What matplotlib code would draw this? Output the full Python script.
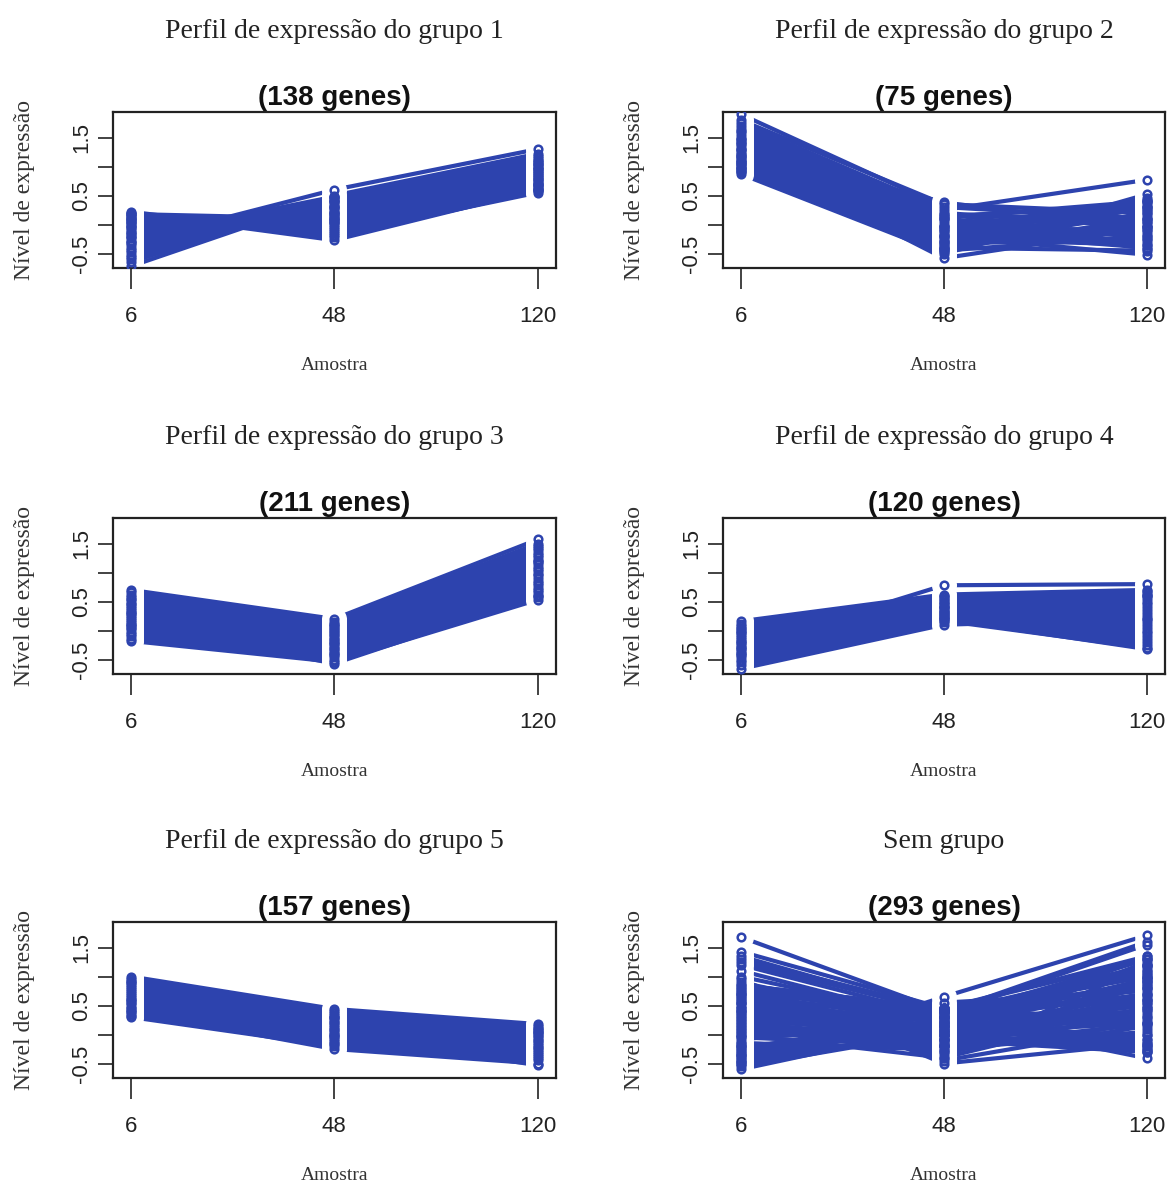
import matplotlib
matplotlib.use('Agg')
import matplotlib.pyplot as plt

amostras = ['6', '48', '120']

titulos = ['Perfil de expressão do grupo 1', 'Perfil de expressão do grupo 2',
           'Perfil de expressão do grupo 3', 'Perfil de expressão do grupo 4',
           'Perfil de expressão do grupo 5', 'Sem grupo']
n_genes = [138, 75, 211, 120, 157, 293]

# expression profiles (values at 6, 48, 120)
grupo1 = [
    [0.22, -0.22, 0.58], [0.18, -0.15, 0.62], [0.15, -0.18, 0.55], [0.12, -0.08, 0.68],
    [0.10, -0.12, 0.60], [0.08, 0.00, 0.72], [0.05, -0.05, 0.66], [0.02, 0.05, 0.78],
    [0.00, 0.02, 0.70], [-0.03, 0.10, 0.82], [-0.06, 0.08, 0.76], [-0.10, 0.15, 0.88],
    [-0.13, 0.12, 0.80], [-0.16, 0.20, 0.92], [-0.20, 0.18, 0.86], [-0.24, 0.25, 0.98],
    [-0.28, 0.22, 0.90], [-0.32, 0.30, 1.02], [-0.36, 0.28, 0.95], [-0.40, 0.35, 1.08],
    [-0.44, 0.32, 1.00], [-0.48, 0.40, 1.12], [-0.52, 0.38, 1.05], [-0.56, 0.45, 1.18],
    [-0.60, 0.42, 1.10], [-0.65, 0.50, 1.22], [-0.72, 0.48, 1.15], [-0.30, 0.60, 1.30],
    [0.20, -0.27, 0.60], [0.18, 0.10, 0.62], [0.10, 0.15, 0.70], [-0.15, 0.40, 0.95],
    [-0.05, 0.30, 0.85], [0.05, 0.20, 0.75], [-0.22, 0.48, 1.05], [0.15, 0.05, 0.65],
]
grupo2 = [
    [1.90, 0.30, 0.10], [1.80, 0.35, 0.20], [1.75, 0.25, 0.77], [1.70, 0.20, -0.05],
    [1.65, 0.15, 0.30], [1.60, 0.10, -0.20], [1.55, 0.12, 0.40], [1.50, 0.05, 0.05],
    [1.45, 0.00, -0.30], [1.40, -0.02, 0.25], [1.35, -0.05, -0.10], [1.30, -0.10, 0.35],
    [1.25, -0.12, -0.40], [1.22, -0.15, 0.15], [1.18, -0.20, -0.15], [1.15, -0.22, 0.45],
    [1.10, -0.25, -0.35], [1.07, -0.28, 0.00], [1.04, -0.30, 0.30], [1.00, -0.33, -0.25],
    [0.97, -0.36, 0.20], [0.95, -0.40, -0.45], [0.92, -0.42, 0.10], [0.90, -0.45, -0.20],
    [0.87, -0.50, 0.38], [1.20, -0.58, -0.05], [1.30, 0.38, -0.05], [1.12, -0.48, 0.52],
    [1.28, -0.08, -0.35], [1.02, -0.18, 0.40], [0.98, -0.38, 0.30], [1.42, 0.10, -0.42],
    [1.48, -0.40, 0.05], [1.08, 0.18, -0.25], [1.62, -0.30, -0.10], [0.93, -0.05, 0.25],
    [1.38, -0.44, 0.42], [1.16, 0.15, 0.10], [1.05, -0.20, -0.52],
]
grupo3 = [
    [0.70, 0.20, 1.57], [0.66, 0.15, 1.50], [0.62, 0.12, 1.45], [0.58, 0.08, 1.42],
    [0.55, 0.05, 1.38], [0.52, 0.02, 1.34], [0.48, 0.00, 1.30], [0.45, -0.03, 1.26],
    [0.42, -0.06, 1.22], [0.38, -0.08, 1.18], [0.35, -0.11, 1.15], [0.32, -0.14, 1.10],
    [0.28, -0.16, 1.06], [0.25, -0.19, 1.02], [0.22, -0.22, 0.98], [0.18, -0.24, 0.95],
    [0.15, -0.27, 0.90], [0.12, -0.30, 0.86], [0.08, -0.32, 0.82], [0.05, -0.35, 0.78],
    [0.02, -0.38, 0.74], [-0.02, -0.40, 0.70], [-0.06, -0.43, 0.66], [-0.10, -0.46, 0.62],
    [-0.14, -0.50, 0.58], [-0.18, -0.54, 0.53], [0.10, -0.57, 0.60], [0.30, 0.10, 1.20],
]
grupo4 = [
    [0.16, 0.62, 0.70], [0.12, 0.60, 0.65], [0.08, 0.58, 0.60], [0.05, 0.55, 0.55],
    [0.02, 0.52, 0.50], [-0.02, 0.50, 0.45], [-0.05, 0.48, 0.40], [-0.08, 0.45, 0.35],
    [-0.12, 0.43, 0.30], [-0.15, 0.40, 0.25], [-0.18, 0.38, 0.20], [-0.22, 0.36, 0.15],
    [-0.25, 0.34, 0.10], [-0.28, 0.32, 0.05], [-0.32, 0.30, 0.00], [-0.35, 0.28, -0.05],
    [-0.38, 0.26, -0.10], [-0.42, 0.24, -0.15], [-0.45, 0.22, -0.20], [-0.50, 0.20, -0.25],
    [-0.55, 0.17, -0.30], [-0.60, 0.15, 0.60], [-0.66, 0.10, 0.20], [-0.30, 0.78, 0.80],
    [-0.40, 0.40, 0.68], [-0.20, 0.20, -0.32], [0.00, 0.25, 0.62],
]
grupo5 = [
    [1.00, 0.44, 0.18], [0.96, 0.40, 0.15], [0.92, 0.37, 0.12], [0.88, 0.34, 0.10],
    [0.85, 0.31, 0.08], [0.82, 0.28, 0.05], [0.78, 0.25, 0.02], [0.75, 0.22, 0.00],
    [0.72, 0.19, -0.03], [0.68, 0.16, -0.06], [0.65, 0.13, -0.09], [0.62, 0.10, -0.12],
    [0.58, 0.07, -0.15], [0.55, 0.04, -0.18], [0.52, 0.01, -0.21], [0.48, -0.02, -0.24],
    [0.45, -0.05, -0.27], [0.42, -0.08, -0.30], [0.38, -0.11, -0.33], [0.35, -0.14, -0.37],
    [0.32, -0.17, -0.40], [0.30, -0.20, -0.44], [0.40, -0.25, -0.50], [0.60, 0.00, -0.53],
    [0.90, 0.30, 0.05],
]
sem_grupo = [
    [1.68, 0.40, 1.00], [1.43, 0.45, 0.60], [1.35, 0.35, 1.55], [1.30, 0.42, 0.20],
    [1.25, 0.38, 1.60], [1.20, 0.30, 0.90], [1.10, 0.20, 1.30], [1.00, 0.25, 0.40],
    [0.90, 0.15, 1.20], [0.85, 0.45, 1.35], [0.80, 0.40, 0.80], [0.75, 0.30, -0.10],
    [0.70, 0.20, 1.10], [0.65, 0.10, 0.50], [0.60, 0.35, 1.00], [0.55, 0.00, -0.20],
    [0.50, 0.25, 0.70], [0.45, -0.10, 1.25], [0.40, 0.15, 0.30], [0.35, -0.20, 0.90],
    [0.30, 0.05, -0.30], [0.25, 0.40, 0.60], [0.20, -0.30, 0.20], [0.15, 0.30, 1.30],
    [0.10, -0.15, 0.00], [0.05, 0.20, 0.80], [0.00, -0.40, 0.45], [-0.05, 0.10, 1.15],
    [-0.10, 0.45, -0.25], [-0.15, -0.25, 0.65], [-0.20, 0.00, 1.35], [-0.25, 0.35, 0.10],
    [-0.30, -0.10, -0.30], [-0.35, 0.15, 0.95], [-0.40, -0.05, 0.35], [-0.45, 0.25, -0.15],
    [-0.50, 0.05, 0.55], [-0.55, 0.05, 1.20], [-0.60, 0.15, -0.25], [-0.48, 0.65, 1.71],
    [0.95, -0.50, -0.15], [0.70, -0.45, 0.15], [-0.20, -0.20, 0.85], [0.30, 0.45, 0.25],
    [-0.35, 0.40, 1.05], [0.55, -0.35, 1.00], [0.10, 0.55, 0.75], [0.40, 0.30, -0.41],
    [0.85, 0.45, 1.30], [0.75, 0.38, 1.18], [0.65, 0.30, 1.05], [0.55, 0.22, 0.92],
    [0.45, 0.15, 0.80], [0.35, 0.08, 0.68], [0.25, 0.00, 0.55], [0.15, -0.07, 0.42],
    [0.05, -0.14, 0.30], [-0.05, -0.20, 0.18], [-0.15, -0.26, 0.05], [-0.25, -0.18, -0.08],
    [-0.35, -0.08, -0.18], [-0.45, 0.00, -0.28], [0.80, -0.40, 1.20], [0.60, -0.30, 0.95],
    [0.40, -0.20, 0.70], [0.20, -0.10, 0.45], [0.00, 0.00, 0.20], [-0.20, 0.10, 0.00],
    [-0.40, 0.20, -0.20], [-0.50, 0.30, 1.10], [-0.30, 0.40, 0.85], [0.70, 0.05, 0.60],
]
grupos = [grupo1, grupo2, grupo3, grupo4, grupo5, sem_grupo]

azul = '#2d43ae'
W, H = 1171, 1190
fig = plt.figure(figsize=(W / 100, H / 100), dpi=100)

# axes boxes in pixels: (left, right) per column, top per row
colunas = [(113, 556), (723, 1165)]
linhas = [112, 518, 922]
altura = 156

x = [1, 2, 3]
for i, perfis in enumerate(grupos):
    l, r = colunas[i % 2]
    t = linhas[i // 2]
    ax = fig.add_axes([l / W, 1 - (t + altura) / H, (r - l) / W, altura / H])
    for p in perfis:
        ax.plot(x, p, color=azul, lw=3.0, solid_capstyle='butt', zorder=1)
    for p in perfis:
        ax.plot(x, p, ls='none', marker='o', ms=17, mfc='white', mec='white', zorder=2)
    for p in perfis:
        ax.plot(x, p, ls='none', marker='o', ms=5.5, mfc='none', mec=azul, mew=1.8, zorder=3)
    ax.set_xlim(0.912, 3.09)
    ax.set_ylim(-0.75, 1.94)
    ax.set_xticks(x)
    ax.set_xticklabels(amostras, fontsize=16, family='Liberation Sans', color='#222222')
    ax.set_yticks([-0.5, 0, 0.5, 1.0, 1.5])
    ax.set_yticklabels(['-0.5', '', '0.5', '', '1.5'], fontsize=16, color='#222222',
                       family='Liberation Sans', rotation=90, va='center')
    ax.tick_params(axis='x', length=15, width=1.2, pad=12, color='#222222')
    ax.tick_params(axis='y', length=11, width=1.2, pad=4, color='#222222')
    for s in ax.spines.values():
        s.set_linewidth(1.6)
        s.set_color('#222222')
    ax.set_title('(%d genes)' % n_genes[i], fontsize=20, fontweight='bold',
                 family='Liberation Sans', pad=5, color='#111111')
    ax.text(0.5, 1 + 80 / altura, titulos[i], transform=ax.transAxes, ha='center',
            va='center', fontsize=20, family='Liberation Serif', color='#222222')
    ax.set_ylabel('Nível de expressão', fontsize=17, family='Liberation Serif',
                  color='#333333', labelpad=26)
    ax.set_xlabel('Amostra', fontsize=14, family='Liberation Serif',
                  color='#333333', labelpad=22)

fig.savefig('out.png', dpi=100)
